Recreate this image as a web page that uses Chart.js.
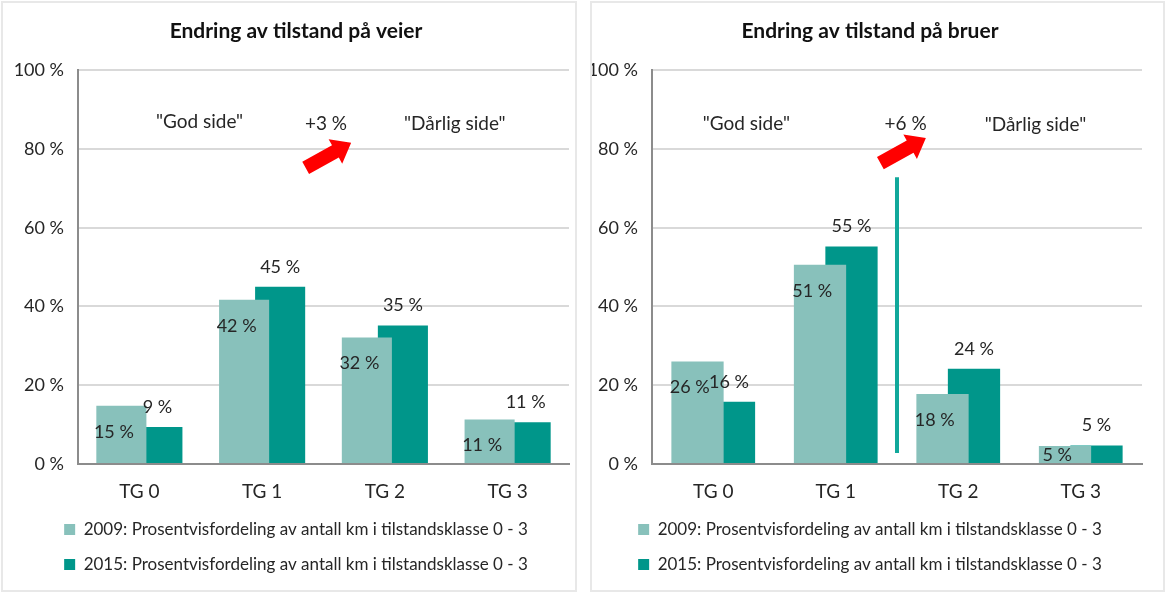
<!DOCTYPE html>
<html lang="no">
<head>
    <meta charset="UTF-8">
    <title>Endring av tilstand</title>
    <script src="https://cdn.jsdelivr.net/npm/chart.js"></script>
    <style>
        body { margin: 0; background: #fff; }
        #wrap { position: relative; width: 1166px; height: 593px; }
        .frame { position: absolute; border: 2px solid #e8e8e8; box-sizing: border-box; }
        .holder { position: absolute; }
    </style>
</head>
<body>
<div id="wrap">
    <div class="frame" style="left:1px;top:1px;width:576px;height:591px;"></div>
    <div class="frame" style="left:590px;top:1px;width:575px;height:591px;"></div>
    <div class="holder" style="left:3px;top:3px;width:572px;height:586px;">
        <canvas id="veier"></canvas>
    </div>
    <div class="holder" style="left:592px;top:3px;width:571px;height:586px;">
        <canvas id="bruer"></canvas>
    </div>
</div>
<script>
    const categories = ['TG 0', 'TG 1', 'TG 2', 'TG 3'];
    const seriesLabels = [
        '2009: Prosentvisfordeling av antall km i tilstandsklasse 0 - 3',
        '2015: Prosentvisfordeling av antall km i tilstandsklasse 0 - 3'
    ];
    // veier
    const veier2009 = [14.8, 41.7, 32.1, 11.3];
    const veier2015 = [9.4, 45.0, 35.2, 10.6];
    // bruer
    const bruer2009 = [26.0, 50.6, 17.8, 4.6];
    const bruer2015 = [15.8, 55.2, 24.2, 4.7];

    const lightTeal = '#88c1bb';
    const darkTeal = '#00968a';
    const textCol = '#262626';
    const font = 'Lato, "Open Sans", sans-serif';

    // verdietiketter + tekst/pil-markeringer
    const extras = {
        id: 'extras',
        afterLayout(chart) {
            // la y-etikettene bruke hele venstre marg (ikke klippes)
            chart.scales.y.left = 0;
        },
        afterDatasetsDraw(chart, args, opts) {
            const ctx = chart.ctx;
            const xs = chart.scales.x, ys = chart.scales.y;
            ctx.save();
            ctx.font = '18px ' + font;
            ctx.fillStyle = textCol;
            ctx.textAlign = 'center';
            ctx.textBaseline = 'middle';
            chart.data.datasets.forEach((ds, i) => {
                chart.getDatasetMeta(i).data.forEach((bar, j) => {
                    const txt = Math.round(ds.data[j]) + ' %';
                    if (i === 0) {
                        const y = Math.min(bar.y + 26, bar.base - 8);
                        ctx.fillText(txt, bar.x - bar.width * 0.15, y);
                    } else {
                        ctx.fillText(txt, bar.x, bar.y - 20);
                    }
                });
            });

            ctx.font = '19px ' + font;
            (opts.notes || []).forEach(n => {
                ctx.fillText(n.text, xs.getPixelForValue(n.x), ys.getPixelForValue(n.y));
            });

            if (opts.line) {
                const lx = xs.getPixelForValue(opts.line.x);
                ctx.strokeStyle = '#11a89b';
                ctx.lineWidth = 4;
                ctx.beginPath();
                ctx.moveTo(lx, ys.getPixelForValue(opts.line.from));
                ctx.lineTo(lx, ys.getPixelForValue(opts.line.to));
                ctx.stroke();
            }

            if (opts.arrow) {
                const ax = xs.getPixelForValue(opts.arrow.x);
                const ay = ys.getPixelForValue(opts.arrow.y);
                ctx.translate(ax, ay);
                ctx.rotate(-29 * Math.PI / 180);
                ctx.fillStyle = '#ff0000';
                ctx.beginPath();
                ctx.moveTo(-26, -7);
                ctx.lineTo(8, -7);
                ctx.lineTo(8, -14);
                ctx.lineTo(26, 0);
                ctx.lineTo(8, 14);
                ctx.lineTo(8, 7);
                ctx.lineTo(-26, 7);
                ctx.closePath();
                ctx.fill();
            }
            ctx.restore();
        }
    };

    function makeChart(id, title, d2009, d2015, catPct, barPct, padLeft, leftW, padRight, notes) {
        return new Chart(document.getElementById(id), {
            type: 'bar',
            data: {
                labels: categories,
                datasets: [
                    { label: seriesLabels[0], data: d2009, backgroundColor: lightTeal,
                      categoryPercentage: catPct, barPercentage: barPct },
                    { label: seriesLabels[1], data: d2015, backgroundColor: darkTeal,
                      categoryPercentage: catPct, barPercentage: barPct }
                ]
            },
            options: {
                responsive: true,
                maintainAspectRatio: false,
                animation: false,
                layout: { padding: { left: padLeft, right: padRight, top: 0, bottom: 6 } },
                scales: {
                    x: {
                        afterFit(scale) { scale.height = 39; },
                        grid: { display: false },
                        border: { color: '#8c8c8c', width: 2 },
                        ticks: { color: textCol, font: { family: font, size: 19 }, padding: 8 }
                    },
                    y: {
                        min: 0, max: 100,
                        afterFit(scale) { scale.width = leftW; },
                        grid: { color: '#d9d9d9', lineWidth: 2, drawTicks: false },
                        border: { color: '#8c8c8c', width: 2 },
                        ticks: { stepSize: 20, color: textCol, padding: 14,
                                 font: { family: font, size: 18 },
                                 callback: v => v + ' %' }
                    }
                },
                plugins: {
                    title: {
                        display: true, text: title, color: '#111',
                        font: { family: font, size: 21, weight: 'bold' },
                        padding: { top: 16, bottom: 26 }
                    },
                    legend: {
                        position: 'bottom',
                        labels: { color: textCol, boxWidth: 11, boxHeight: 11, padding: 18,
                                  font: { family: font, size: 17 } }
                    },
                    tooltip: { enabled: false },
                    extras: notes
                }
            },
            plugins: [extras]
        });
    }

    makeChart('veier', 'Endring av tilstand på veier', veier2009, veier2015, 0.587, 1.39, 20, 55, 6, {
        notes: [
            { text: '"God side"', x: 0.49, y: 86.8 },
            { text: '+3 %', x: 1.52, y: 86.3 },
            { text: '"Dårlig side"', x: 2.57, y: 86.3 }
        ],
        arrow: { x: 1.54, y: 78.4 }
    });

    makeChart('bruer', 'Endring av tilstand på bruer', bruer2009, bruer2015, 0.514, 1.66, 6, 54, 21, {
        notes: [
            { text: '"God side"', x: 0.27, y: 86.3 },
            { text: '+6 %', x: 1.57, y: 86.3 },
            { text: '"Dårlig side"', x: 2.63, y: 86.0 }
        ],
        arrow: { x: 1.55, y: 79.6 },
        line: { x: 1.5, from: 72.8, to: 2.8 }
    });
</script>
</body>
</html>
